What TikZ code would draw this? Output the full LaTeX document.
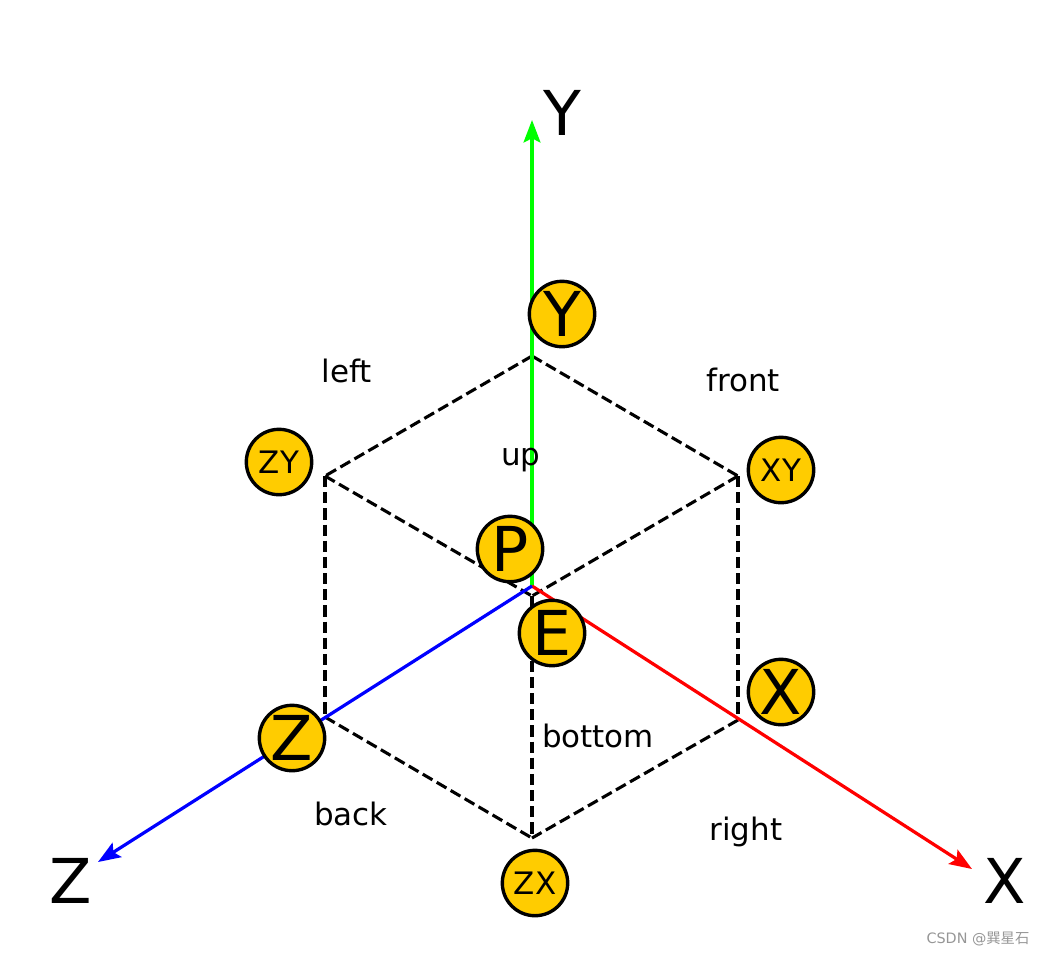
\documentclass[tikz,border=0pt]{standalone}
\usepackage{fontspec}
\setmainfont{DejaVu Sans}
\newfontfamily\cjkfont{Noto Sans CJK SC}
\definecolor{axisred}{RGB}{255,0,0}
\definecolor{axisgreen}{RGB}{0,255,0}
\definecolor{axisblue}{RGB}{0,0,255}
\definecolor{ballgold}{RGB}{255,204,0}
\definecolor{markgray}{RGB}{150,150,150}
\usetikzlibrary{arrows.meta}

\begin{document}
\begin{tikzpicture}[x=0.025cm, y=-0.025cm,
  bigball/.style={circle, draw=black, line width=2.4pt, fill=ballgold, minimum size=46.5pt,
    inner sep=0pt, font=\fontsize{44}{44}\selectfont},
  smallball/.style={bigball, font=\fontsize{22}{22}\selectfont},
  axislabel/.style={inner sep=0pt, font=\fontsize{44}{44}\selectfont},
  facelabel/.style={inner sep=0pt, font=\fontsize{22}{22}\selectfont},
  cubeedge/.style={black, line width=2.2pt, dash pattern=on 8pt off 3.5pt},
  axisline/.style={line width=2.3pt, -{Stealth[length=16pt, width=12pt, inset=3pt]}}]

\useasboundingbox (0,0) rectangle (1044,956);

% Cube corners
\coordinate (top) at (532,356);
\coordinate (upleft) at (325,476);
\coordinate (upright) at (738,476);
\coordinate (mid) at (532,596);
\coordinate (lowleft) at (325,717);
\coordinate (lowright) at (738,720);
\coordinate (bottomc) at (532,838);

\draw[cubeedge] (top) -- (upright);
\draw[cubeedge] (top) -- (upleft);
\draw[cubeedge] (upleft) -- (mid);
\draw[cubeedge] (upright) -- (mid);
\draw[cubeedge] (mid) -- (bottomc);
\draw[cubeedge] (upleft) -- (lowleft);
\draw[cubeedge] (upright) -- (lowright);
\draw[cubeedge] (lowleft) -- (bottomc);
\draw[cubeedge] (lowright) -- (bottomc);

% Axes
\coordinate (origin) at (532,586);
\coordinate (yend) at (532,120);
\coordinate (xend) at (972,869);
\coordinate (zend) at (98,862);

\draw[axisline, axisgreen] (origin) -- (yend);
\draw[axisline, axisred] (origin) -- (xend);
\draw[axisline, axisblue] (origin) -- (zend);

\node[axislabel] (ylabel) at (562,113) {Y};
\node[axislabel] (xlabel) at (1005,881) {X};
\node[axislabel] (zlabel) at (71,881) {Z};

% Balls
\node[bigball] (ballY) at (562,314) {Y};
\node[smallball] (ballZY) at (279,462) {ZY};
\node[smallball] (ballXY) at (781,470) {XY};
\node[bigball] (ballP) at (510,549) {P};
\node[bigball] (ballE) at (552,633) {E};
\node[bigball] (ballX) at (781,692) {X};
\node[bigball] (ballZ) at (292,738) {Z};
\node[smallball] (ballZX) at (535,883) {ZX};

% Faces
\node[facelabel] (left) at (347,371) {left};
\node[facelabel] (front) at (743,380) {front};
\node[facelabel] (up) at (521,460) {up};
\node[facelabel] (bottom) at (598,736) {bottom};
\node[facelabel] (back) at (351,814) {back};
\node[facelabel] (right) at (746,832) {right};

\node[inner sep=0pt, text=markgray, font=\fontsize{10.2}{10.2}\selectfont] (mark) at (978,939) {CSDN @{\cjkfont 巽星石}};

\end{tikzpicture}
\end{document}
